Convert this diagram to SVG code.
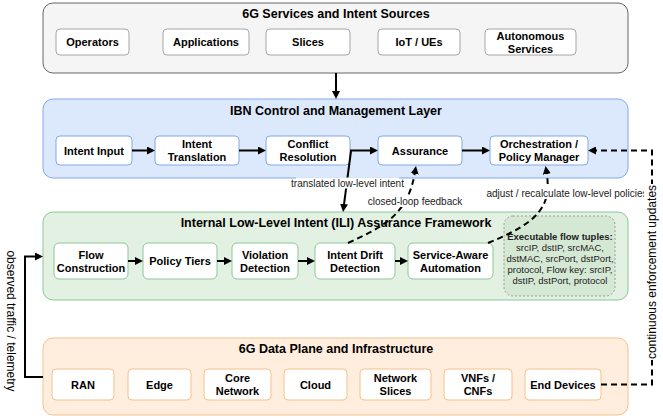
<svg xmlns="http://www.w3.org/2000/svg" width="663" height="418" viewBox="0 0 663 418">
<defs>
<style>
text{font-family:"Liberation Sans",Arial,Helvetica,sans-serif;fill:#000}
.title{font-size:12.5px;font-weight:bold;text-anchor:middle}
.n{font-size:11px;font-weight:bold;text-anchor:middle}
.lbl{font-size:10px;text-anchor:middle;fill:#222}
.ex{font-size:9.5px;text-anchor:middle;fill:#222}
.nd{fill:#fff;stroke-width:1}
.c-top{fill:#f5f5f5;stroke:#666;stroke-width:1}
.c-ibn{fill:#dce8fb;stroke:#82a9e6;stroke-width:1}
.c-ili{fill:#e3f1e2;stroke:#8cc79a;stroke-width:1}
.c-dp{fill:#ffeedd;stroke:#f4c18c;stroke-width:1}
.s-top{stroke:#a6a6a6}
.s-ibn{stroke:#82a9e6}
.s-ili{stroke:#8cc79a}
.s-dp{stroke:#f4c18c}
.ar{fill:none;stroke:#000;stroke-width:2}
.da{fill:none;stroke:#000;stroke-width:2;stroke-dasharray:6 4}
.bg{fill:#fff}
</style>
<marker id="ah" viewBox="0 0 10 10" refX="2.5" refY="5" markerWidth="8" markerHeight="8" markerUnits="userSpaceOnUse" orient="auto">
<path d="M0,0 L10,5 L0,10 z" fill="#000"/>
</marker>
</defs>

<g id="layer-services">
<rect class="c-top" x="43" y="3" width="585" height="70" rx="10"/>
<text class="title" x="336" y="18">6G Services and Intent Sources</text>
</g>
<g id="operators"><rect class="nd s-top" x="56" y="29" width="73" height="26" rx="4"/><text class="n" x="92.5" y="46">Operators</text></g>
<g id="applications"><rect class="nd s-top" x="163" y="29" width="86" height="26" rx="4"/><text class="n" x="206" y="46">Applications</text></g>
<g id="slices"><rect class="nd s-top" x="266" y="29" width="84" height="26" rx="4"/><text class="n" x="308" y="46">Slices</text></g>
<g id="iot"><rect class="nd s-top" x="378" y="29" width="82" height="26" rx="4"/><text class="n" x="419" y="46">IoT / UEs</text></g>
<g id="autonomous"><rect class="nd s-top" x="485" y="29" width="91" height="26" rx="4"/><text class="n" x="530.5" y="40">Autonomous</text><text class="n" x="530.5" y="52.5">Services</text></g>

<g id="layer-ibn">
<rect class="c-ibn" x="43" y="99" width="585" height="79" rx="10"/>
<text class="title" x="336" y="115">IBN Control and Management Layer</text>
</g>
<g id="intent-input"><rect class="nd s-ibn" x="56" y="136" width="76" height="29" rx="4"/><text class="n" x="94" y="154.5">Intent Input</text></g>
<g id="intent-translation"><rect class="nd s-ibn" x="155" y="136" width="84" height="29" rx="4"/><text class="n" x="197" y="148">Intent</text><text class="n" x="197" y="161">Translation</text></g>
<g id="conflict-resolution"><rect class="nd s-ibn" x="266" y="136" width="84" height="29" rx="4"/><text class="n" x="308" y="148">Conflict</text><text class="n" x="308" y="161">Resolution</text></g>
<g id="assurance"><rect class="nd s-ibn" x="378" y="136" width="84" height="29" rx="4"/><text class="n" x="420" y="154.5">Assurance</text></g>
<g id="orchestration"><rect class="nd s-ibn" x="490" y="136" width="98" height="29" rx="4"/><text class="n" x="539" y="148">Orchestration /</text><text class="n" x="539" y="161">Policy Manager</text></g>

<g id="layer-ili">
<rect class="c-ili" x="43" y="212" width="585" height="88" rx="10"/>
<text class="title" x="336" y="226.5">Internal Low-Level Intent (ILI) Assurance Framework</text>
</g>
<g id="flow-construction"><rect class="nd s-ili" x="54" y="243" width="74" height="36" rx="5"/><text class="n" x="91" y="259">Flow</text><text class="n" x="91" y="272">Construction</text></g>
<g id="policy-tiers"><rect class="nd s-ili" x="143" y="243" width="74" height="36" rx="5"/><text class="n" x="180" y="265">Policy Tiers</text></g>
<g id="violation-detection"><rect class="nd s-ili" x="232" y="243" width="66" height="36" rx="5"/><text class="n" x="265" y="259">Violation</text><text class="n" x="265" y="272">Detection</text></g>
<g id="intent-drift"><rect class="nd s-ili" x="315" y="243" width="80" height="36" rx="5"/><text class="n" x="355" y="259">Intent Drift</text><text class="n" x="355" y="272">Detection</text></g>
<g id="service-aware"><rect class="nd s-ili" x="408" y="243" width="85" height="36" rx="5"/><text class="n" x="450.5" y="259">Service-Aware</text><text class="n" x="450.5" y="272">Automation</text></g>
<g id="flow-tuples">
<rect x="504" y="216" width="111" height="80" rx="9" fill="#d5e8d4" stroke="#9a9a9a" stroke-width="1" stroke-dasharray="2 2"/>
<text class="ex" x="560" y="239.5" font-weight="bold" fill="#111">Executable flow tuples:</text>
<text class="ex" x="560" y="250.5">srcIP, dstIP, srcMAC,</text>
<text class="ex" x="560" y="261.5">dstMAC, srcPort, dstPort,</text>
<text class="ex" x="560" y="272.5">protocol, Flow key: srcIP,</text>
<text class="ex" x="560" y="283.5">dstIP, dstPort, protocol</text>
</g>

<g id="layer-data-plane">
<rect class="c-dp" x="43" y="338" width="585" height="77" rx="10"/>
<text class="title" x="336" y="352.5">6G Data Plane and Infrastructure</text>
</g>
<g id="ran"><rect class="nd s-dp" x="52" y="369" width="62" height="31" rx="4"/><text class="n" x="83" y="388.5">RAN</text></g>
<g id="edge"><rect class="nd s-dp" x="128" y="369" width="63" height="31" rx="4"/><text class="n" x="159.5" y="388.5">Edge</text></g>
<g id="core-network"><rect class="nd s-dp" x="204" y="369" width="67" height="31" rx="4"/><text class="n" x="237.5" y="382">Core</text><text class="n" x="237.5" y="395">Network</text></g>
<g id="cloud"><rect class="nd s-dp" x="284" y="369" width="63" height="31" rx="4"/><text class="n" x="315.5" y="388.5">Cloud</text></g>
<g id="network-slices"><rect class="nd s-dp" x="360" y="369" width="71" height="31" rx="4"/><text class="n" x="395.5" y="382">Network</text><text class="n" x="395.5" y="395">Slices</text></g>
<g id="vnfs"><rect class="nd s-dp" x="444" y="369" width="68" height="31" rx="4"/><text class="n" x="478" y="382">VNFs /</text><text class="n" x="478" y="395">CNFs</text></g>
<g id="end-devices"><rect class="nd s-dp" x="525" y="369" width="76" height="31" rx="4"/><text class="n" x="563" y="388.5">End Devices</text></g>

<g id="connectors">
<path class="ar" d="M336,73 V93" marker-end="url(#ah)"/>
<path class="ar" d="M132,150.5 H149" marker-end="url(#ah)"/>
<path class="ar" d="M239,150.5 H260" marker-end="url(#ah)"/>
<path class="ar" d="M350,150.5 H372" marker-end="url(#ah)"/>
<path class="ar" d="M462,150.5 H484" marker-end="url(#ah)"/>
<path class="ar" d="M128,261 H137" marker-end="url(#ah)"/>
<path class="ar" d="M217,261 H226" marker-end="url(#ah)"/>
<path class="ar" d="M298,261 H309" marker-end="url(#ah)"/>
<path class="ar" d="M395,261 H402" marker-end="url(#ah)"/>
<path class="ar" d="M351,151 L343.8,206" marker-end="url(#ah)"/>
<path class="da" d="M348,243 C385,226 408,214 415,172" marker-end="url(#ah)"/>
<path class="da" d="M488,243 C540,222 552,205 546.5,172" marker-end="url(#ah)"/>
<path class="da" d="M601,384.5 H652 V150.5 H594" marker-end="url(#ah)"/>
<path class="ar" d="M43,377 H25 V256.5 H37" marker-end="url(#ah)"/>
<rect class="bg" x="296" y="177.5" width="103" height="11"/>
<text class="lbl" x="347.5" y="186.5" font-size="9px">translated low-level intent</text>
<rect class="bg" x="367" y="195" width="96" height="12"/>
<text class="lbl" x="415" y="204.5">closed-loop feedback</text>
<rect class="bg" x="484" y="187" width="164" height="12"/>
<text class="lbl" x="567" y="196.5">adjust / recalculate low-level policies</text>
<g transform="translate(652,272) rotate(-90)">
<rect class="bg" x="-88" y="-8" width="176" height="16"/>
<text x="0" y="4.2" font-size="12px" text-anchor="middle" fill="#111">continuous enforcement updates</text>
</g>
<text transform="translate(11,321) rotate(90)" x="0" y="4.2" font-size="12px" text-anchor="middle" fill="#111">observed traffic / telemetry</text>
</g>
</svg>
